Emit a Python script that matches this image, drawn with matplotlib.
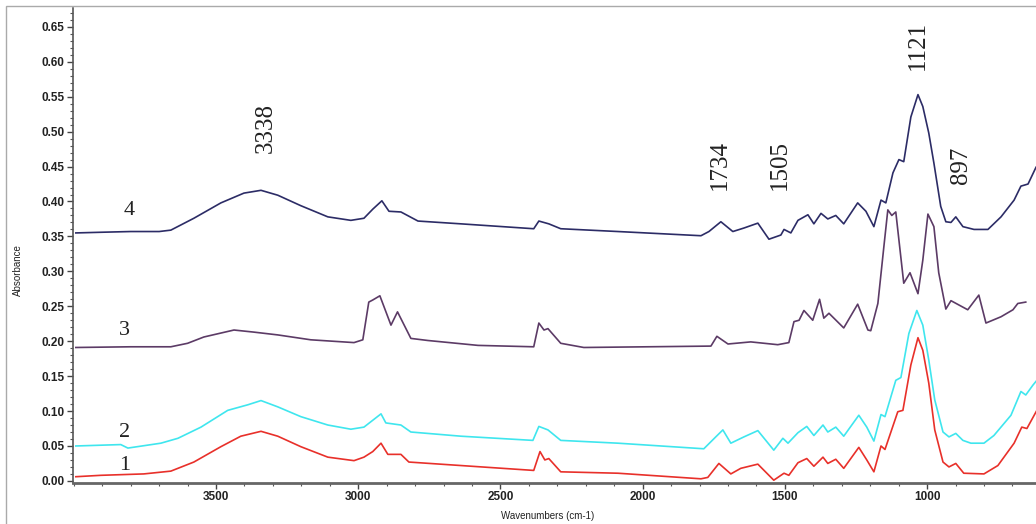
import matplotlib
matplotlib.use("Agg")
import matplotlib.pyplot as plt
from matplotlib.ticker import MultipleLocator, FormatStrFormatter
from matplotlib.patches import Rectangle

# ---- data ----
wn4 = [3993, 3900, 3800, 3700, 3659, 3578, 3483, 3402, 3342, 3283, 3202, 3107, 3026, 2980,
       2949, 2917, 2892, 2850, 2790, 2639, 2383, 2365, 2330, 2288, 2087, 1795, 1767, 1725,
       1683, 1644, 1595, 1556, 1514, 1503, 1479, 1454, 1419, 1398, 1373, 1349, 1321, 1293,
       1244, 1215, 1187, 1162, 1145, 1120, 1099, 1082, 1057, 1032, 1015, 994, 976, 952, 934,
       916, 899, 874, 835, 786, 740, 694, 670, 645, 617]
ab4 = [0.355, 0.356, 0.357, 0.357, 0.359, 0.376, 0.398, 0.412, 0.416, 0.409, 0.394, 0.378,
       0.373, 0.376, 0.389, 0.401, 0.386, 0.385, 0.372, 0.368, 0.361, 0.372, 0.368, 0.361,
       0.357, 0.351, 0.357, 0.371, 0.357, 0.362, 0.369, 0.346, 0.352, 0.360, 0.355, 0.373,
       0.381, 0.368, 0.383, 0.375, 0.380, 0.368, 0.398, 0.386, 0.364, 0.402, 0.398, 0.441,
       0.460, 0.457, 0.521, 0.553, 0.536, 0.498, 0.455, 0.393, 0.371, 0.370, 0.378, 0.364,
       0.360, 0.360, 0.378, 0.402, 0.422, 0.425, 0.449]

wn3 = [3993, 3800, 3659, 3600, 3543, 3437, 3367, 3283, 3167, 3015, 2984, 2963, 2949, 2924,
       2885, 2862, 2815, 2755, 2579, 2383, 2365, 2347, 2333, 2288, 2207, 1760, 1739, 1700,
       1620, 1525, 1486, 1468, 1450, 1433, 1402, 1378, 1363, 1345, 1293, 1244, 1208, 1198,
       1173, 1152, 1138, 1124, 1110, 1082, 1060, 1032, 1015, 997, 976, 959, 934, 916, 857,
       818, 793, 740, 698, 681, 653]
ab3 = [0.191, 0.192, 0.192, 0.197, 0.206, 0.216, 0.213, 0.209, 0.202, 0.198, 0.202, 0.256,
       0.259, 0.265, 0.223, 0.242, 0.204, 0.201, 0.194, 0.192, 0.226, 0.216, 0.218, 0.197,
       0.191, 0.193, 0.207, 0.196, 0.199, 0.195, 0.198, 0.228, 0.230, 0.244, 0.230, 0.260,
       0.233, 0.240, 0.219, 0.253, 0.216, 0.215, 0.254, 0.335, 0.388, 0.380, 0.385, 0.283,
       0.298, 0.268, 0.316, 0.382, 0.364, 0.298, 0.246, 0.258, 0.245, 0.266, 0.226, 0.235,
       0.245, 0.254, 0.256]

wn2 = [3993, 3835, 3810, 3694, 3634, 3553, 3459, 3388, 3342, 3283, 3202, 3107, 3026, 2980,
       2920, 2903, 2850, 2815, 2639, 2386, 2365, 2333, 2288, 2087, 1785, 1743, 1718, 1690,
       1644, 1595, 1539, 1507, 1489, 1454, 1423, 1398, 1366, 1349, 1321, 1293, 1240, 1212,
       1187, 1162, 1148, 1110, 1092, 1064, 1036, 1015, 994, 973, 944, 923, 899, 874, 846,
       800, 765, 705, 670, 653, 628, 614]
ab2 = [0.050, 0.052, 0.047, 0.054, 0.061, 0.077, 0.101, 0.109, 0.115, 0.106, 0.092, 0.080,
       0.074, 0.077, 0.096, 0.083, 0.080, 0.070, 0.064, 0.058, 0.078, 0.073, 0.058, 0.054,
       0.046, 0.063, 0.073, 0.054, 0.063, 0.072, 0.044, 0.061, 0.054, 0.069, 0.078, 0.065,
       0.080, 0.070, 0.077, 0.064, 0.094, 0.077, 0.057, 0.095, 0.092, 0.144, 0.148, 0.211,
       0.244, 0.223, 0.173, 0.116, 0.070, 0.063, 0.068, 0.058, 0.054, 0.054, 0.065, 0.094,
       0.128, 0.123, 0.137, 0.144]

wn1 = [3993, 3905, 3754, 3659, 3578, 3483, 3413, 3342, 3283, 3202, 3107, 3015, 2980, 2949,
       2920, 2896, 2850, 2822, 2639, 2383, 2361, 2344, 2330, 2288, 2087, 1795, 1771, 1732,
       1690, 1655, 1595, 1539, 1503, 1486, 1454, 1423, 1398, 1366, 1349, 1321, 1293, 1240,
       1212, 1187, 1162, 1148, 1103, 1085, 1057, 1032, 1015, 994, 973, 944, 923, 899, 871,
       800, 751, 694, 667, 649, 614]
ab1 = [0.006, 0.008, 0.010, 0.014, 0.027, 0.049, 0.064, 0.071, 0.064, 0.049, 0.034, 0.029,
       0.034, 0.042, 0.054, 0.038, 0.038, 0.027, 0.022, 0.015, 0.042, 0.030, 0.032, 0.013,
       0.011, 0.003, 0.005, 0.025, 0.010, 0.018, 0.024, 0.001, 0.011, 0.008, 0.026, 0.032,
       0.021, 0.034, 0.025, 0.031, 0.018, 0.048, 0.030, 0.013, 0.050, 0.045, 0.099, 0.101,
       0.166, 0.205, 0.187, 0.140, 0.073, 0.027, 0.020, 0.025, 0.011, 0.010, 0.022, 0.054,
       0.077, 0.075, 0.101]

series = [
    ("1", wn1, ab1, "#e8302a"),
    ("2", wn2, ab2, "#3fe6ee"),
    ("3", wn3, ab3, "#5c3b66"),
    ("4", wn4, ab4, "#2c2c66"),
]

curve_labels = ["4", "3", "2", "1"]
curve_label_wn = [3807, 3821, 3821, 3821]
curve_label_ab = [0.387, 0.215, 0.070, 0.0225]

peak_labels = ["3338", "1734", "1505", "1121", "897"]
peak_label_wn = [3325, 1730, 1518, 1032, 881]
peak_label_ab = [0.505, 0.452, 0.452, 0.624, 0.452]

# ---- figure ----
W, H = 1036, 524
fig = plt.figure(figsize=(W / 100, H / 100), dpi=100)
ax = fig.add_axes([73 / W, 1 - 483 / H, 1 - 73 / W, (483 - 8) / H])

for name, x, y, c in series:
    ax.plot(x, y, color=c, lw=1.2)

ax.set_xlim(4003, 617)
ax.set_ylim(-0.003, 0.677)

ax.xaxis.set_major_locator(MultipleLocator(500))
ax.xaxis.set_minor_locator(MultipleLocator(100))
ax.yaxis.set_major_locator(MultipleLocator(0.05))
ax.yaxis.set_minor_locator(MultipleLocator(0.01))
ax.yaxis.set_major_formatter(FormatStrFormatter("%.2f"))
ax.set_xticks([3500, 3000, 2500, 2000, 1500, 1000])

for s in ["top", "right"]:
    ax.spines[s].set_visible(False)
ax.spines["left"].set_color("#555555")
ax.spines["bottom"].set_color("#666666")
ax.spines["left"].set_linewidth(1.2)
ax.spines["bottom"].set_linewidth(2.0)

ax.tick_params(axis="both", which="major", direction="out", length=4, width=1,
               color="#444444", labelsize=8.5, labelcolor="#222222", pad=2)
ax.tick_params(axis="both", which="minor", direction="out", length=2, width=0.8,
               color="#555555")
for lab in ax.get_xticklabels() + ax.get_yticklabels():
    lab.set_fontfamily("Liberation Sans")
    lab.set_fontweight("bold")

fig.text(548 / W, 1 - 516 / H, "Wavenumbers (cm-1)", ha="center", va="center",
         fontsize=7, family="Liberation Sans", color="#222222")
fig.text(18 / W, 1 - 270 / H, "Absorbance", ha="center", va="center", rotation=90,
         fontsize=7, family="Liberation Sans", color="#222222")

for t, x, y in zip(curve_labels, curve_label_wn, curve_label_ab):
    ax.text(x, y, t, ha="center", va="center", fontsize=16, family="Liberation Serif",
            color="#222222")
for t, x, y in zip(peak_labels, peak_label_wn, peak_label_ab):
    ax.text(x, y, t, ha="center", va="center", rotation=90, fontsize=18,
            family="Liberation Serif", color="#222222")

# outer frame of the original picture
fig.patches.append(Rectangle((6 / W, -0.1), 1.2, 1 - 6 / H + 0.1,
                             transform=fig.transFigure, fill=False,
                             edgecolor="#aaaaaa", lw=1.0))

fig.savefig("out.png", dpi=100)
